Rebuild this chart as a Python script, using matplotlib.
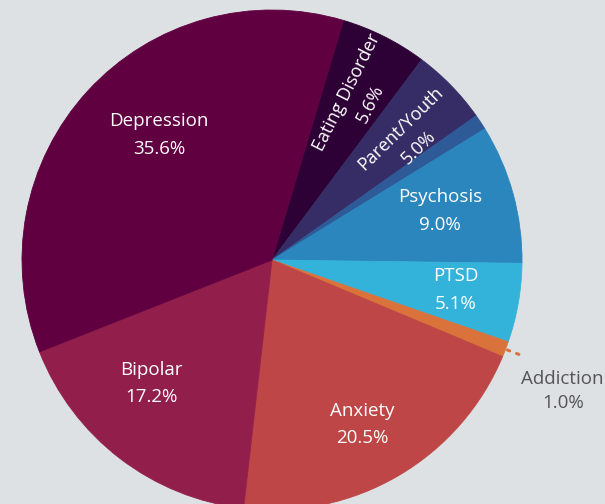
import numpy as np
import matplotlib
matplotlib.use("Agg")
import matplotlib.pyplot as plt

# Share of calls by topic, clockwise from the top
categories = ["Eating Disorder", "Parent/Youth", "Other", "Psychosis", "PTSD",
              "Addiction", "Anxiety", "Bipolar", "Depression"]
shares = [5.6, 5.0, 1.0, 9.0, 5.1, 1.0, 20.5, 17.2, 35.6]
labels = ["Eating Disorder\n5.6%", "Parent/Youth\n5.0%", "", "Psychosis\n9.0%",
          "PTSD\n5.1%", "Addiction\n1.0%", "Anxiety\n20.5%", "Bipolar\n17.2%",
          "Depression\n35.6%"]
colors = ["#2d0036", "#372d66", "#2e5b98", "#2b86bd", "#34b3da",
          "#da733b", "#be4646", "#921f4b", "#600040"]

W, H = 605, 504
BG = "#dde1e4"
plt.rcParams["font.family"] = ["Open Sans", "DejaVu Sans"]

fig = plt.figure(figsize=(W / 100, H / 100), dpi=100, facecolor=BG)
ax = fig.add_axes([0, 0, 1, 1])
ax.set_facecolor(BG)

cx, cy, R = 272, 244, 250
wedges, _ = ax.pie(shares, colors=colors, startangle=73.4, counterclock=False,
                   radius=R, center=(cx, cy), frame=True,
                   wedgeprops=dict(linewidth=0.6))
for w in wedges:
    w.set_edgecolor(w.get_facecolor())
ax.set_xlim(0, W)
ax.set_ylim(0, H)
ax.set_aspect("equal")
ax.axis("off")

FS = 13.5
# label placement: (radial fraction, angular tweak in degrees, rotated?, line spacing, size)
place = {
    "Eating Disorder": (0.735, -1.6, True, 1.6, 13),
    "Parent/Youth": (0.735, -2.8, True, 1.6, 13),
    "Psychosis": (0.70, 0.8, False, 1.7, FS),
    "PTSD": (0.745, 0.6, False, 1.7, FS),
    "Anxiety": (0.75, -1.7, False, 1.7, FS),
    "Bipolar": (0.69, -6.8, False, 1.7, FS),
    "Depression": (0.675, -5.4, False, 1.7, FS),
}

for w, name, text in zip(wedges, categories, labels):
    mid = (w.theta1 + w.theta2) / 2
    if name in place:
        frac, tweak, rot, ls, fs = place[name]
        a = np.deg2rad(mid + tweak)
        x = cx + frac * R * np.cos(a)
        y = cy + frac * R * np.sin(a)
        ax.text(x, y, text, ha="center", va="center", color="white",
                fontsize=fs, rotation=(mid if rot else 0),
                rotation_mode="anchor", linespacing=ls, multialignment="center")
    elif name == "Addiction":
        a = np.deg2rad(mid)
        r = np.array([0.93, 1.065]) * R
        ax.plot(cx + r * np.cos(a), cy + r * np.sin(a), linestyle=(0, (0.8, 2.4)),
                color="#da733b", linewidth=2.2, dash_capstyle="round")
        a2 = np.deg2rad(mid - 3.3)
        ax.text(cx + 1.275 * R * np.cos(a2), cy + 1.275 * R * np.sin(a2), text,
                ha="center", va="center", color="#555555", fontsize=FS,
                linespacing=1.45, multialignment="center")

fig.savefig("out.png", dpi=100, facecolor=BG)
